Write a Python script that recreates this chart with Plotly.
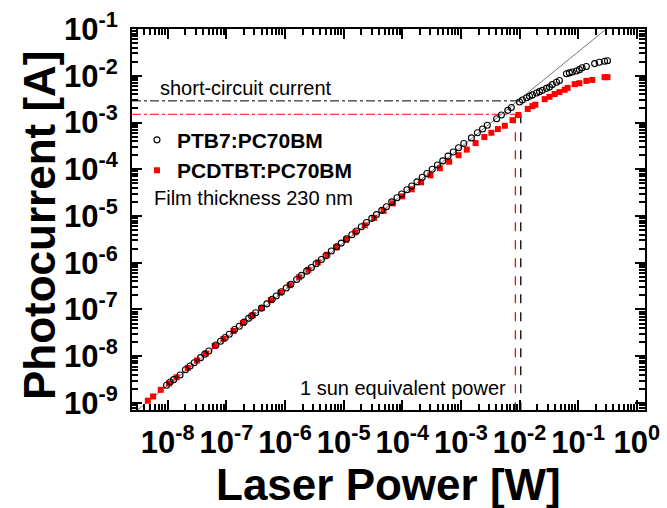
import plotly.graph_objects as go

# ---------------- data ----------------
ptb7_power = [9.55e-9, 1.10e-8, 1.26e-8, 1.62e-8, 2.00e-8, 2.40e-8, 2.82e-8, 3.63e-8, 4.27e-8, 5.01e-8,
              6.61e-8, 7.94e-8, 9.55e-8, 1.12e-7, 1.38e-7, 1.66e-7, 2.00e-7, 2.40e-7, 2.69e-7, 3.16e-7,
              3.98e-7, 4.90e-7, 6.03e-7, 7.08e-7, 8.71e-7, 1.05e-6, 1.26e-6, 1.58e-6, 1.91e-6, 2.34e-6,
              2.82e-6, 3.39e-6, 4.17e-6, 5.01e-6, 6.17e-6, 7.59e-6, 9.12e-6, 1.12e-5, 1.38e-5, 1.66e-5,
              2.00e-5, 2.45e-5, 3.02e-5, 3.63e-5, 4.47e-5, 5.37e-5, 6.61e-5, 8.13e-5, 9.77e-5, 1.20e-4,
              1.45e-4, 1.78e-4, 2.19e-4, 2.63e-4, 3.24e-4, 3.98e-4, 4.90e-4, 6.03e-4, 7.41e-4, 9.12e-4,
              1.12e-3, 1.51e-3, 1.91e-3, 2.34e-3, 2.82e-3, 4.07e-3, 4.90e-3, 6.31e-3, 7.24e-3, 1.00e-2,
              1.12e-2, 1.32e-2, 1.48e-2, 1.66e-2, 1.95e-2, 2.19e-2, 2.45e-2, 2.88e-2, 3.24e-2, 3.63e-2,
              4.27e-2, 4.79e-2, 6.31e-2, 7.08e-2, 7.94e-2, 9.33e-2, 1.05e-1, 1.17e-1, 1.38e-1, 1.91e-1,
              2.29e-1, 2.82e-1, 3.16e-1]
ptb7_current = [2.40e-9, 2.82e-9, 3.16e-9, 3.98e-9, 5.13e-9, 6.17e-9, 7.24e-9, 9.33e-9, 1.10e-8, 1.29e-8,
                1.74e-8, 2.09e-8, 2.51e-8, 2.95e-8, 3.72e-8, 4.37e-8, 5.37e-8, 6.46e-8, 7.24e-8, 8.51e-8,
                1.07e-7, 1.32e-7, 1.66e-7, 1.95e-7, 2.40e-7, 2.88e-7, 3.47e-7, 4.37e-7, 5.37e-7, 6.61e-7,
                7.94e-7, 9.55e-7, 1.17e-6, 1.41e-6, 1.78e-6, 2.19e-6, 2.63e-6, 3.24e-6, 3.98e-6, 4.79e-6,
                5.89e-6, 7.24e-6, 8.91e-6, 1.07e-5, 1.32e-5, 1.58e-5, 2.00e-5, 2.45e-5, 2.95e-5, 3.63e-5,
                4.37e-5, 5.37e-5, 6.76e-5, 8.13e-5, 1.00e-4, 1.23e-4, 1.51e-4, 1.91e-4, 2.34e-4, 2.88e-4,
                3.55e-4, 4.68e-4, 6.03e-4, 7.24e-4, 8.71e-4, 1.20e-3, 1.45e-3, 1.82e-3, 2.09e-3, 2.75e-3,
                3.02e-3, 3.39e-3, 3.63e-3, 3.89e-3, 4.27e-3, 4.57e-3, 4.90e-3, 5.37e-3, 5.75e-3, 6.46e-3,
                7.24e-3, 7.94e-3, 1.10e-2, 1.15e-2, 1.20e-2, 1.26e-2, 1.35e-2, 1.48e-2, 1.58e-2, 1.82e-2,
                1.95e-2, 2.04e-2, 2.09e-2]

pcdtbt_power = [4.57e-9, 5.62e-9, 7.59e-9, 1.05e-8, 1.41e-8, 2.19e-8, 3.16e-8, 4.47e-8, 6.31e-8, 8.91e-8,
                1.32e-7, 1.91e-7, 2.82e-7, 3.98e-7, 5.75e-7, 8.32e-7, 1.20e-6, 1.74e-6, 2.51e-6, 3.63e-6,
                5.25e-6, 7.59e-6, 1.10e-5, 1.58e-5, 2.29e-5, 3.31e-5, 4.79e-5, 6.92e-5, 1.00e-4, 1.45e-4,
                2.09e-4, 3.02e-4, 4.37e-4, 6.31e-4, 9.12e-4, 1.26e-3, 1.78e-3, 2.51e-3, 3.31e-3, 4.27e-3,
                5.62e-3, 7.59e-3, 9.55e-3, 1.38e-2, 1.66e-2, 1.86e-2, 2.69e-2, 3.24e-2, 3.98e-2, 4.79e-2,
                5.89e-2, 6.61e-2, 8.71e-2, 1.05e-1, 1.38e-1, 1.74e-1, 2.82e-1, 3.16e-1]
pcdtbt_current = [1.12e-9, 1.38e-9, 1.91e-9, 2.63e-9, 3.55e-9, 5.62e-9, 8.13e-9, 1.15e-8, 1.66e-8, 2.34e-8,
                  3.47e-8, 5.13e-8, 7.59e-8, 1.07e-7, 1.58e-7, 2.29e-7, 3.31e-7, 4.90e-7, 7.08e-7, 1.02e-6,
                  1.48e-6, 2.14e-6, 3.09e-6, 4.47e-6, 6.31e-6, 9.12e-6, 1.29e-5, 1.86e-5, 2.63e-5, 3.72e-5,
                  5.25e-5, 7.41e-5, 1.05e-4, 1.45e-4, 2.00e-4, 2.63e-4, 3.63e-4, 4.90e-4, 6.03e-4, 7.24e-4,
                  8.51e-4, 1.12e-3, 1.45e-3, 1.95e-3, 2.24e-3, 2.40e-3, 3.16e-3, 3.55e-3, 4.07e-3, 4.47e-3,
                  5.01e-3, 5.50e-3, 6.61e-3, 6.92e-3, 7.76e-3, 8.13e-3, 9.33e-3, 9.33e-3]

# linear reference line (two end points)
fit_power = [2.5e-9, 1.0]
fit_current = [5.75e-10, 0.34]

# guide lines
ptb7_isc = 2.9e-3          # short-circuit current, PTB7
pcdtbt_isc = 1.5e-3        # short-circuit current, PCDTBT
ptb7_sun_power = 1.05e-2   # 1 sun equivalent power, PTB7
pcdtbt_sun_power = 8.5e-3  # 1 sun equivalent power, PCDTBT

x_decades = [-8, -7, -6, -5, -4, -3, -2, -1, 0]
y_decades = [-9, -8, -7, -6, -5, -4, -3, -2, -1]

x_range_log = [-8.61, 0.14]
y_range_log = [-9.15, -1.0]

FONT = "Arial, 'Liberation Sans', sans-serif"

# ---------------- figure ----------------
fig = go.Figure()

fig.add_trace(go.Scatter(x=fit_power, y=fit_current, mode="lines",
                         line=dict(color="#555555", width=0.8), showlegend=False, hoverinfo="skip"))

# horizontal short-circuit lines
fig.add_trace(go.Scatter(x=[10 ** x_range_log[0], ptb7_sun_power], y=[ptb7_isc, ptb7_isc], mode="lines",
                         line=dict(color="black", width=1, dash="dashdot"), showlegend=False))
fig.add_trace(go.Scatter(x=[10 ** x_range_log[0], pcdtbt_sun_power], y=[pcdtbt_isc, pcdtbt_isc], mode="lines",
                         line=dict(color="red", width=1, dash="dashdot"), showlegend=False))
# vertical 1-sun lines
fig.add_trace(go.Scatter(x=[ptb7_sun_power, ptb7_sun_power], y=[pcdtbt_isc, 10 ** y_range_log[0]], mode="lines",
                         line=dict(color="black", width=1.3, dash="dash"), showlegend=False))
fig.add_trace(go.Scatter(x=[pcdtbt_sun_power, pcdtbt_sun_power], y=[pcdtbt_isc, 10 ** y_range_log[0]], mode="lines",
                         line=dict(color="red", width=1.3, dash="dash"), showlegend=False))

fig.add_trace(go.Scatter(x=pcdtbt_power, y=pcdtbt_current, mode="markers", name="PCDTBT:PC70BM",
                         marker=dict(symbol="square", color="#ff0000", size=6, line=dict(width=0))))
fig.add_trace(go.Scatter(x=ptb7_power, y=ptb7_current, mode="markers", name="PTB7:PC70BM",
                         marker=dict(symbol="circle-open", color="black", size=6, line=dict(width=1.1))))


def minor_vals(lo, hi):
    vals = []
    for d in range(lo, hi + 1):
        for m in range(2, 10):
            vals.append(m * 10.0 ** d)
    return vals


tick_font = dict(family=FONT, size=31, color="black", weight="bold")
axis_common = dict(type="log", showgrid=False, zeroline=False, showline=True, linecolor="black",
                   linewidth=2, mirror="allticks", ticks="inside", ticklen=10, tickwidth=2,
                   tickcolor="black", tickfont=tick_font)
minor_common = dict(tickmode="array", ticks="inside", ticklen=6, tickwidth=1.5,
                    tickcolor="black", showgrid=False)

fig.update_layout(
    xaxis=dict(**axis_common, range=x_range_log,
               tickmode="array", tickvals=[10.0 ** d for d in x_decades],
               ticktext=["10<sup>%d</sup>" % d for d in x_decades], ticklabelstandoff=4,
               minor=dict(**minor_common, tickvals=minor_vals(-9, 0))),
    yaxis=dict(**axis_common, range=y_range_log,
               tickmode="array", tickvals=[10.0 ** d for d in y_decades],
               ticktext=["10<sup>%d</sup>" % d for d in y_decades], ticklabelstandoff=6,
               minor=dict(**minor_common, tickvals=minor_vals(-10, -1))),
)

annos = [
    dict(text="<b>Laser Power [W]</b>", x=0.5, y=-0.196, xref="paper", yref="paper",
         xanchor="center", yanchor="middle", showarrow=False, font=dict(family=FONT, size=44, color="black")),
    dict(text="<b>Photocurrent [A]</b>", x=-0.179, y=0.486, xref="paper", yref="paper", textangle=-90,
         xanchor="center", yanchor="middle", showarrow=False, font=dict(family=FONT, size=44, color="black")),
    dict(text="short-circuit current", x=0.0507, y=0.845, xref="paper", yref="paper",
         xanchor="left", yanchor="middle", showarrow=False, font=dict(family=FONT, size=20, color="black")),
    dict(text="Film thickness 230 nm", x=0.039, y=0.557, xref="paper", yref="paper",
         xanchor="left", yanchor="middle", showarrow=False, font=dict(family=FONT, size=20, color="black")),
    dict(text="1 sun equivalent power", x=0.3236, y=0.0577, xref="paper", yref="paper",
         xanchor="left", yanchor="middle", showarrow=False, font=dict(family=FONT, size=20, color="black")),
]

fig.update_layout(
    width=667, height=508,
    margin=dict(l=132, r=22, t=29, b=98, autoexpand=False),
    plot_bgcolor="white", paper_bgcolor="white",
    showlegend=True,
    legend=dict(x=0.0097, y=0.762, xanchor="left", yanchor="top", traceorder="reversed",
                bgcolor="rgba(0,0,0,0)", borderwidth=0, tracegroupgap=0,
                font=dict(family=FONT, size=21, color="black", weight="bold")),
    annotations=annos,
)

fig.write_html("out.html")
